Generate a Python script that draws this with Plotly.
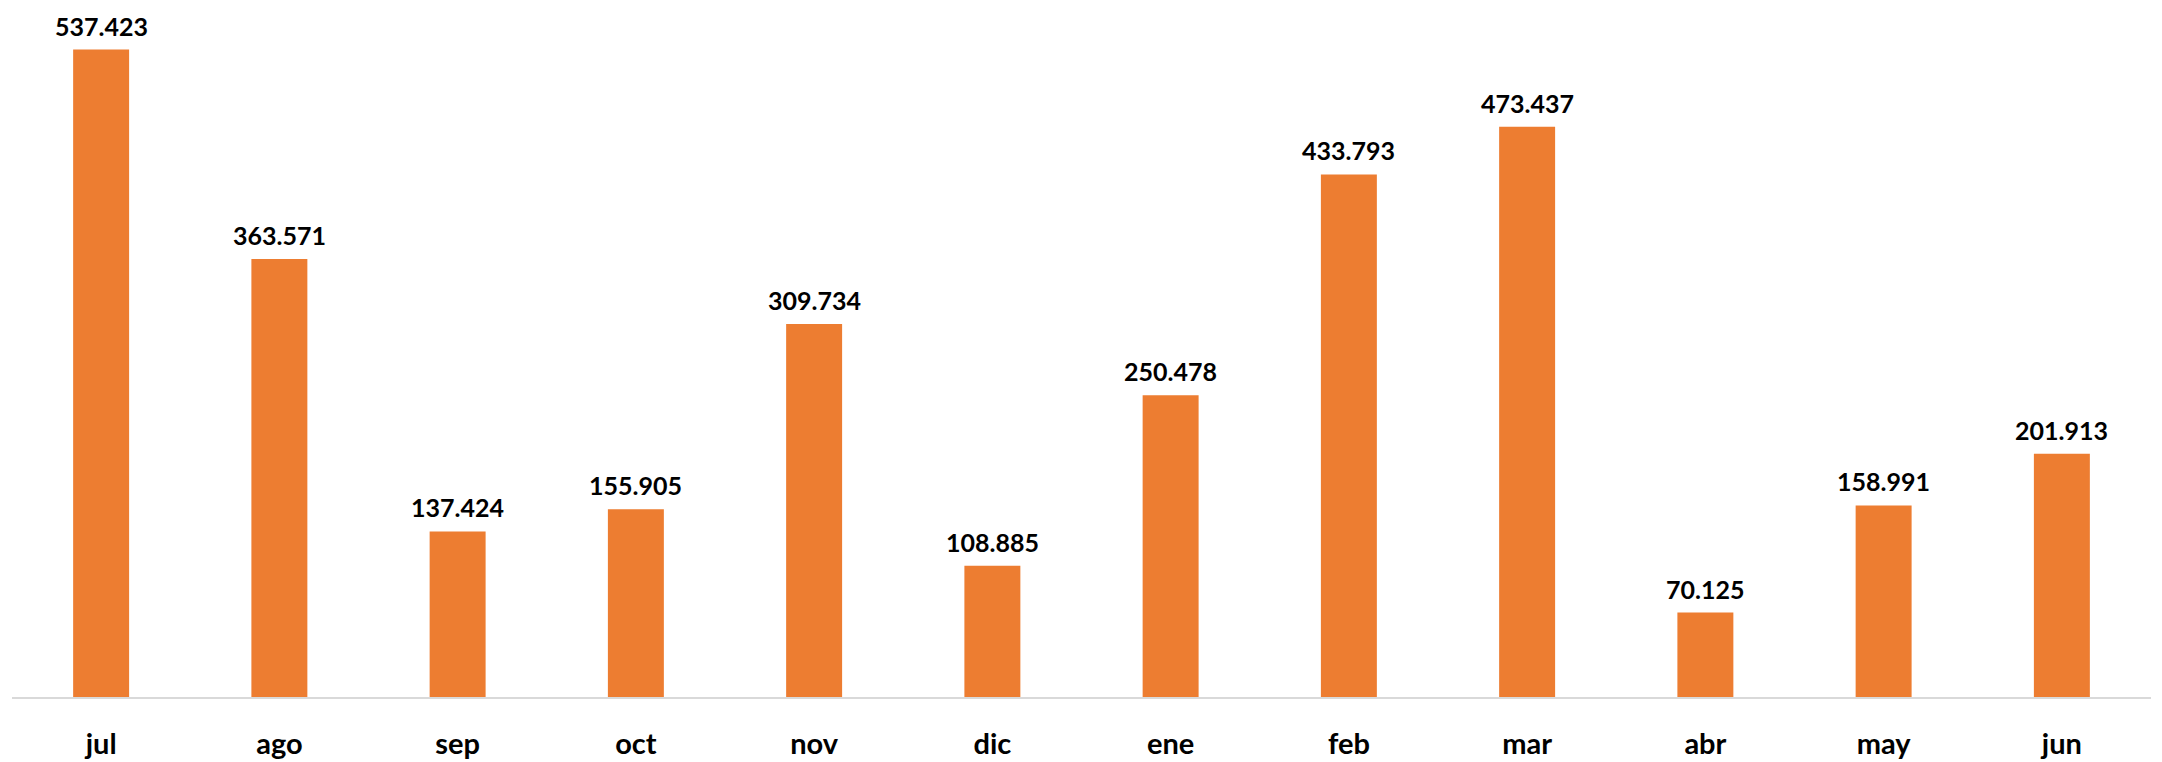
import plotly.graph_objects as go

months = ["jul", "ago", "sep", "oct", "nov", "dic", "ene", "feb", "mar", "abr", "may", "jun"]
values = [537.423, 363.571, 137.424, 155.905, 309.734, 108.885, 250.478, 433.793, 473.437, 70.125, 158.991, 201.913]
labels = ["537.423", "363.571", "137.424", "155.905", "309.734", "108.885",
          "250.478", "433.793", "473.437", "70.125", "158.991", "201.913"]

BAR_COLOR = "#ED7D31"
FONT = "Lato"

fig = go.Figure()
fig.add_trace(go.Bar(
    x=months,
    y=values,
    marker=dict(color=BAR_COLOR, line=dict(width=0)),
    hoverinfo="x+y",
))

# value labels above each bar
for m, v, lab in zip(months, values, labels):
    fig.add_annotation(
        x=m, y=v, text=lab, showarrow=False,
        yanchor="bottom", yshift=8, borderpad=0,
        font=dict(family=FONT, size=25, color="#000000", weight="bold"),
    )

# page body adds an 8px margin, so the figure is sized/offset for it
fig.update_layout(
    width=2154,
    height=754,
    margin=dict(l=4, r=11, t=2, b=59),
    plot_bgcolor="white",
    paper_bgcolor="white",
    bargap=0.686,
    showlegend=False,
    xaxis=dict(
        showline=True, linecolor="#d9d9d9", linewidth=2,
        showgrid=False, ticks="", ticklabelstandoff=20,
        tickfont=dict(family=FONT, size=29, color="#000000", weight="bold"),
    ),
    yaxis=dict(
        range=[0, 570.3], visible=False, showgrid=False, zeroline=False,
    ),
)

fig.write_html("out.html")
